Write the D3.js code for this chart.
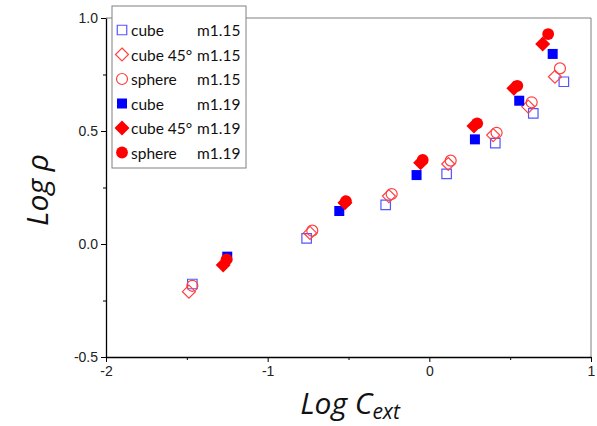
<!doctype html>
<html>
<head>
<meta charset="utf-8">
<script src="https://cdnjs.cloudflare.com/ajax/libs/d3/7.8.5/d3.min.js"></script>
<style>
  body { margin: 0; background: #fff; }
  svg { display: block; }
</style>
</head>
<body>
<svg width="597" height="426"></svg>
<script>
// series data (Log C_ext, Log rho)
var cubeX115 = [-1.466, -0.759, -0.270, 0.107, 0.408, 0.643, 0.832];
var cubeY115 = [-0.177, 0.025, 0.173, 0.310, 0.446, 0.578, 0.718];
var cube45X115 = [-1.487, -0.738, -0.250, 0.117, 0.395, 0.612, 0.777];
var cube45Y115 = [-0.211, 0.049, 0.212, 0.354, 0.482, 0.608, 0.740];
var sphereX115 = [-1.466, -0.724, -0.233, 0.132, 0.416, 0.633, 0.808];
var sphereY115 = [-0.185, 0.059, 0.221, 0.369, 0.492, 0.627, 0.777];
var cubeX119 = [-1.250, -0.557, -0.079, 0.282, 0.556, 0.763];
var cubeY119 = [-0.056, 0.146, 0.305, 0.463, 0.634, 0.841];
var cube45X119 = [-1.275, -0.522, -0.054, 0.276, 0.523, 0.701];
var cube45Y119 = [-0.093, 0.183, 0.360, 0.522, 0.689, 0.885];
var sphereX119 = [-1.254, -0.516, -0.041, 0.296, 0.544, 0.735];
var sphereY119 = [-0.068, 0.190, 0.372, 0.534, 0.700, 0.929];

var shapeNames = ["cube", "cube 45\u00b0", "sphere", "cube", "cube 45\u00b0", "sphere"];
var mNames = ["m1.15", "m1.15", "m1.15", "m1.19", "m1.19", "m1.19"];
var xTicks = [-2, -1, 0, 1];
var yTicks = [-0.5, 0.0, 0.5, 1.0];

var series = [
  {x: cubeX115, y: cubeY115, sym: d3.symbolSquare, size: 90, fill: "none", stroke: "#5555ff"},
  {x: cube45X115, y: cube45Y115, sym: "diamond", size: 6.5, fill: "none", stroke: "#ff4040"},
  {x: sphereX115, y: sphereY115, sym: d3.symbolCircle, size: 95, fill: "none", stroke: "#ff4040"},
  {x: cubeX119, y: cubeY119, sym: d3.symbolSquare, size: 100, fill: "#0000ff", stroke: "none"},
  {x: cube45X119, y: cube45Y119, sym: "diamond", size: 7.5, fill: "#ff0000", stroke: "none"},
  {x: sphereX119, y: sphereY119, sym: d3.symbolCircle, size: 110, fill: "#ff0000", stroke: "none"}
];

var svg = d3.select("svg");
var mLeft = 106, mRight = 591, mTop = 18, mBottom = 357;

var xScale = d3.scaleLinear().domain([-2, 1]).range([mLeft, mRight]);
var yScale = d3.scaleLinear().domain([-0.5, 1.0]).range([mBottom, mTop]);

function symPath(s) {
  if (s.sym === "diamond") {
    var r = s.size;
    return "M0," + (-r) + "L" + r + ",0L0," + r + "L" + (-r) + ",0Z";
  }
  return d3.symbol().type(s.sym).size(s.size)();
}

// frame (top/right gray)
svg.append("path")
  .attr("d", "M" + mLeft + "," + mTop + "H" + mRight + "V" + mBottom)
  .attr("fill", "none").attr("stroke", "#808080").attr("stroke-width", 1);

// minor ticks
svg.append("g").attr("transform", "translate(0," + mBottom + ")")
  .call(d3.axisBottom(xScale).tickValues([-1.5, -0.5, 0.5]).tickSize(3).tickFormat(""))
  .call(g => g.select(".domain").remove());
svg.append("g").attr("transform", "translate(" + mLeft + ",0)")
  .call(d3.axisLeft(yScale).tickValues([-0.25, 0.25, 0.75]).tickSize(3).tickFormat(""))
  .call(g => g.select(".domain").remove());

var xAxis = svg.append("g").attr("transform", "translate(0," + mBottom + ")")
  .call(d3.axisBottom(xScale).tickValues(xTicks).tickSize(5).tickSizeOuter(0).tickPadding(4).tickFormat(d => String(d)));
var yAxis = svg.append("g").attr("transform", "translate(" + mLeft + ",0)")
  .call(d3.axisLeft(yScale).tickValues(yTicks).tickSize(5).tickSizeOuter(0).tickPadding(3).tickFormat(d => d.toFixed(1)));

svg.selectAll(".tick text")
  .attr("font-family", "Liberation Sans, Arial, sans-serif")
  .attr("font-size", 14).attr("fill", "#222");
svg.selectAll(".domain").attr("stroke-width", 1.3);

// points
series.forEach(function(s) {
  var pts = s.x.map(function(v, i) { return [v, s.y[i]]; });
  svg.append("g").selectAll("path").data(pts).join("path")
    .attr("d", symPath(s))
    .attr("transform", d => "translate(" + xScale(d[0]) + "," + yScale(d[1]) + ")")
    .attr("fill", s.fill)
    .attr("stroke", s.stroke)
    .attr("stroke-width", 1.2);
});

// legend
var leg = svg.append("g");
leg.append("rect").attr("x", 112).attr("y", 6).attr("width", 134).attr("height", 162)
  .attr("fill", "#fff").attr("stroke", "#808080").attr("stroke-width", 1);
series.forEach(function(s, i) {
  var yy = 30 + i * 24.5;
  leg.append("path").attr("d", symPath(s))
    .attr("transform", "translate(122," + yy + ")")
    .attr("fill", s.fill).attr("stroke", s.stroke).attr("stroke-width", 1.2);
  leg.append("text").attr("x", 131).attr("y", yy + 6).text(shapeNames[i])
    .attr("font-family", "Lato, sans-serif").attr("font-size", 15.5).attr("fill", "#111");
  leg.append("text").attr("x", 197).attr("y", yy + 6).text(mNames[i])
    .attr("font-family", "Lato, sans-serif").attr("font-size", 15.5).attr("fill", "#111");
});

// axis titles
svg.append("text")
  .attr("transform", "translate(48,190) rotate(-90)")
  .attr("text-anchor", "middle")
  .attr("font-family", "Open Sans, Lato, sans-serif").attr("font-style", "italic")
  .attr("font-size", 30).attr("fill", "#111")
  .text("Log \u03c1");

var xt = svg.append("text")
  .attr("x", 350).attr("y", 414)
  .attr("text-anchor", "middle")
  .attr("font-family", "Open Sans, Lato, sans-serif").attr("font-style", "italic")
  .attr("font-size", 30).attr("fill", "#111");
xt.append("tspan").text("Log C");
xt.append("tspan").attr("font-size", 21).attr("dy", 5).text("ext");
</script>
</body>
</html>
